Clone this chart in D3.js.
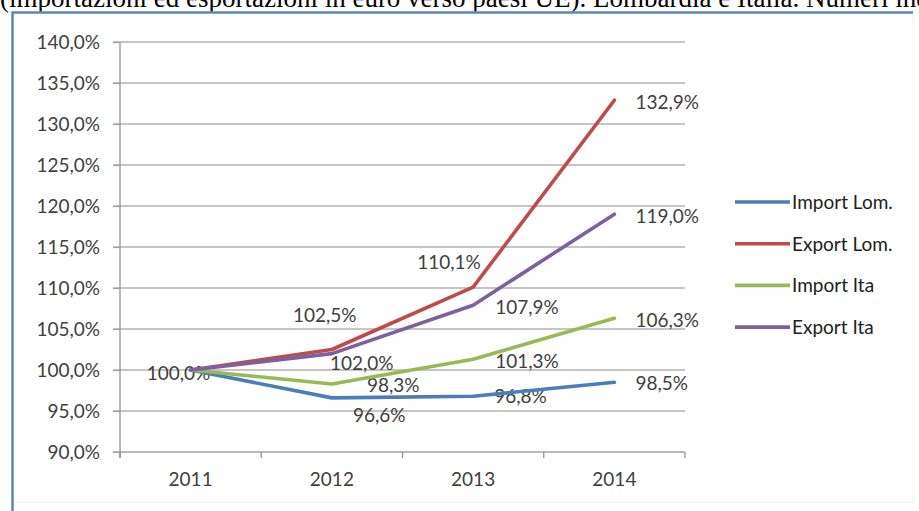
<!DOCTYPE html>
<html>
<head>
<meta charset="utf-8">
<script src="https://cdn.jsdelivr.net/npm/d3@7"></script>
<style>
  html, body { margin: 0; padding: 0; background: #ffffff; overflow: hidden; }
  svg { display: block; }
</style>
</head>
<body>
<svg id="chart" width="919" height="511"></svg>
<script>
// Index numbers (2011 = 100%) of trade with EU countries, Lombardy vs Italy
const years = ["2011", "2012", "2013", "2014"];
const importLom = [100.0, 96.6, 96.8, 98.5];
const exportLom = [100.0, 102.5, 110.1, 132.9];
const importIta = [100.0, 98.3, 101.3, 106.3];
const exportIta = [100.0, 102.0, 107.9, 119.0];
const seriesNames = ["Import Lom.", "Export Lom.", "Import Ita", "Export Ita"];
const yTickValues = [90, 95, 100, 105, 110, 115, 120, 125, 130, 135, 140];
const headingText = "(importazioni ed esportazioni in euro verso paesi UE). Lombardia e Italia. Numeri indici";

// Styling and label placement (pixel offsets from each point; null = no label)
const seriesColors = ["#4a7ebb", "#be4b48", "#98b954", "#7d60a0"];
const labelOffsets = [
  [[-44, 3], [21, 17], [21, 0], [21, 1]],
  [null, [-39, -34], [-56, -25], [21, 1.5]],
  [null, [35, 1], [22, 2], [21, 2]],
  [null, [-2, 9.5], [22, 1.5], [21, 2]]
];

const series = [importLom, exportLom, importIta, exportIta].map((vals, i) => ({
  name: seriesNames[i],
  color: seriesColors[i],
  values: vals.map((v, j) => ({ year: years[j], value: v }))
}));

const itLocale = d3.formatLocale({ decimal: ",", thousands: ".", grouping: [3], currency: ["€", ""] });
const pct = v => itLocale.format(".1f")(v) + "%";

const svg = d3.select("#chart");
const plot = { left: 120, right: 685, top: 42, bottom: 452 };
const font = "Lato, 'Open Sans', sans-serif";

// heading text, running past the top and right edges of the page
svg.append("text")
  .attr("x", 0).attr("y", 7)
  .attr("font-family", "'Liberation Serif', 'Times New Roman', serif")
  .attr("font-size", 27)
  .attr("fill", "#000")
  .text(headingText);

// chart frame
svg.append("rect")
  .attr("x", 12).attr("y", 12).attr("width", 901).attr("height", 490)
  .attr("fill", "#ffffff").attr("stroke", "#f1f2f5").attr("stroke-width", 1);
svg.append("path")
  .attr("d", "M12.5,511 V12.5 H913")
  .attr("fill", "none").attr("stroke", "#5b86bd").attr("stroke-width", 2.5);

const x = d3.scalePoint().domain(years).range([plot.left, plot.right]).padding(0.5);
const xBand = d3.scaleBand().domain(years).range([plot.left, plot.right]);
const y = d3.scaleLinear().domain([90, 140]).range([plot.bottom, plot.top]);

// horizontal gridlines
svg.append("g")
  .selectAll("line")
  .data(yTickValues.filter(v => v > 90))
  .join("line")
  .attr("x1", plot.left - 7).attr("x2", plot.right)
  .attr("y1", d => y(d)).attr("y2", d => y(d))
  .attr("stroke", "#b4b0b0").attr("stroke-width", 1.5);

// y axis
const yAxis = svg.append("g")
  .attr("transform", `translate(${plot.left},0)`)
  .call(d3.axisLeft(y).tickValues(yTickValues).tickFormat(pct).tickSize(7).tickPadding(13));
yAxis.select(".domain").attr("stroke", "#8c8c8c").attr("stroke-width", 1.2)
  .attr("d", `M0,${plot.top}V${plot.bottom + 6}`);
yAxis.selectAll(".tick line").attr("stroke", "#a0a0a0").attr("stroke-width", 1.2);
yAxis.selectAll(".tick text")
  .attr("font-family", font).attr("font-size", 19).attr("fill", "#404040");

// x axis with ticks on category boundaries
const xAxis = svg.append("g")
  .attr("transform", `translate(0,${plot.bottom})`)
  .call(d3.axisBottom(xBand).tickSize(0).tickPadding(21));
xAxis.select(".domain").attr("stroke", "#a0a0a0").attr("stroke-width", 1.5)
  .attr("d", `M${plot.left - 7},0H${plot.right}`);
xAxis.selectAll(".tick text")
  .attr("font-family", font).attr("font-size", 19).attr("fill", "#404040");
xAxis.append("g")
  .selectAll("line")
  .data(years.map(d => xBand(d)).concat([plot.right]))
  .join("line")
  .attr("x1", d => d).attr("x2", d => d)
  .attr("y1", 0).attr("y2", 6)
  .attr("stroke", "#8c8c8c").attr("stroke-width", 1.2);

// data labels
const labels = [];
series.forEach((s, i) => s.values.forEach((p, j) => {
  const off = labelOffsets[i][j];
  if (off) labels.push({ p, off });
}));
svg.append("g")
  .selectAll("text")
  .data(labels)
  .join("text")
  .attr("x", d => x(d.p.year) + d.off[0])
  .attr("y", d => y(d.p.value) + d.off[1])
  .attr("dy", "0.36em")
  .attr("font-family", font).attr("font-size", 19).attr("fill", "#404040")
  .text(d => pct(d.p.value));

// series lines
const line = d3.line().x(d => x(d.year)).y(d => y(d.value));
svg.append("g")
  .selectAll("path")
  .data(series)
  .join("path")
  .attr("d", d => line(d.values))
  .attr("fill", "none")
  .attr("stroke", d => d.color)
  .attr("stroke-width", 3.6)
  .attr("stroke-linejoin", "round")
  .attr("stroke-linecap", "round");

// legend
const legend = svg.append("g").attr("transform", "translate(735,202)");
const item = legend.selectAll("g")
  .data(series)
  .join("g")
  .attr("transform", (d, i) => `translate(0,${i * 41.7})`);
item.append("line")
  .attr("x1", 0).attr("x2", 55).attr("y1", 0).attr("y2", 0)
  .attr("stroke", d => d.color).attr("stroke-width", 3.6);
item.append("text")
  .attr("x", 57).attr("y", 0).attr("dy", "0.36em")
  .attr("font-family", font).attr("font-size", 19).attr("fill", "#202020")
  .text(d => d.name);
</script>
</body>
</html>
